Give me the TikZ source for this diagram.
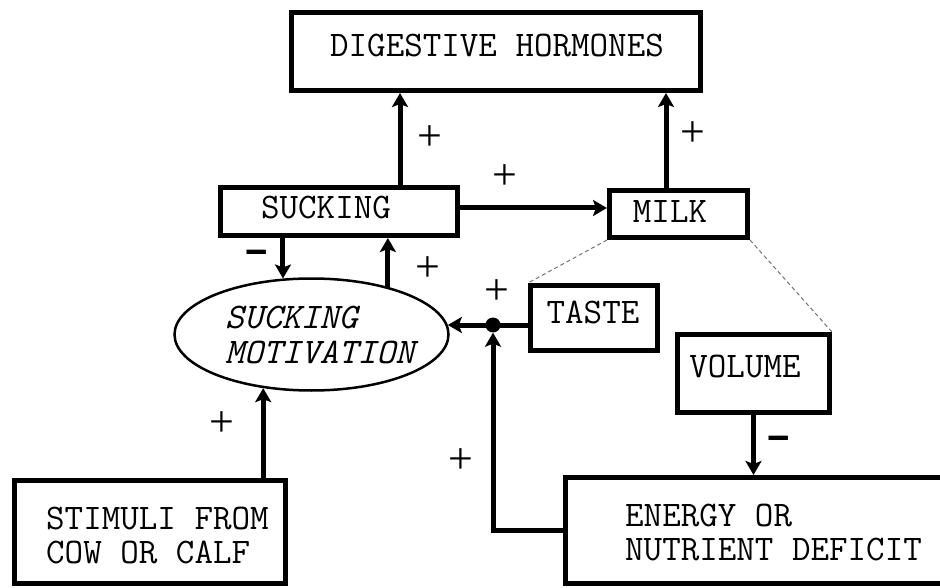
\documentclass[tikz,border=0pt]{standalone}
\usepackage{fontspec}
\newfontfamily\signfont{Liberation Serif}
\newfontfamily\minusfont{Liberation Mono}
\usetikzlibrary{arrows.meta,shapes.geometric}
\begin{document}
\begin{tikzpicture}[x=1pt,y=-1pt,
  box/.style={draw, line width=5pt, rectangle, inner sep=0pt},
  txt/.style={font=\ttfamily\fontsize{36}{34}\selectfont, inner sep=0pt},
  arr/.style={line width=5pt, -{Stealth[length=14pt,width=16pt,inset=3pt]}},
  plain/.style={line width=5pt},
  dashline/.style={draw=black!55, line width=1pt, dash pattern=on 4pt off 3pt},
  sign/.style={font=\signfont\fontsize{44}{44}\selectfont, inner sep=0pt},
  msign/.style={font=\minusfont\fontsize{44}{44}\selectfont\bfseries, inner sep=0pt}]
\useasboundingbox (0,0) rectangle (940,588);
\clip (0,0) rectangle (940,588);
% boxes
\node[box, minimum width=409pt, minimum height=78pt] (horm) at (496,51.5) {};
\node[box, minimum width=237pt, minimum height=48pt] (suck) at (339,211.5) {};
\node[box, minimum width=138pt, minimum height=47pt] (milk) at (678.5,214) {};
\node[box, minimum width=127pt, minimum height=65pt] (taste) at (594,318) {};
\node[box, minimum width=152pt, minimum height=78pt] (vol) at (753.5,373.5) {};
\node[box, minimum width=271pt, minimum height=103pt] (stim) at (150,532) {};
\node[box, minimum width=422pt, minimum height=106pt] (en) at (776.5,530.5) {};
\node[ellipse, draw, line width=2.5pt, inner sep=0pt, minimum width=274pt, minimum height=112pt] (mot) at (311.5,334.5) {};
\node[circle, fill, inner sep=0pt, minimum size=15pt] (dot) at (493,325) {};
% texts
\node[txt, anchor=base] (thorm) at (497,57) {DIGESTIVE HORMONES};
\node[txt, anchor=base] (tsuck) at (326,219) {SUCKING};
\node[txt, anchor=base] (tmilk) at (670,223) {MILK};
\node[txt, anchor=base] (ttaste) at (593,323) {TASTE};
\node[txt, anchor=base] (tvol) at (745,377) {VOLUME};
\node[txt, anchor=base west, align=left] (ten) at (625,560) {ENERGY OR\\NUTRIENT DEFICIT};
\node[txt, anchor=base west, align=left] (tstim) at (46,563) {STIMULI FROM\\COW OR CALF};
\node[txt, anchor=base west, align=left, font=\ttfamily\fontsize{36}{35}\selectfont\itshape] (tmot) at (225,363) {SUCKING\\MOTIVATION};
% connectors
\coordinate (xa) at (400,0);
\coordinate (xb) at (666,0);
\coordinate (ya) at (0,208);
\draw[arr] (suck.north -| xa) -- (horm.south -| xa);
\draw[arr] (milk.north -| xb) -- (horm.south -| xb);
\draw[arr] (suck.east |- ya) -- (milk.west |- ya);
\draw[arr] (suck.south -| mot.117) -- (mot.117);
\draw[arr] (mot.32) -- (mot.32 |- suck.south);
\draw[arr] (stim.north -| mot.-132) -- (mot.-132);
\draw[plain] (taste.west |- dot) -- (dot.center);
\draw[arr] (dot.center) -- (dot -| mot.4);
\draw[arr] (en.west) -| (dot.south);
\draw[arr] (vol.south) -- (vol.south |- en.north);
\draw[dashline] (milk.south west) -- (taste.north west);
\draw[dashline] (milk.south east) -- (vol.north east);
% signs
\node[sign] (s1) at (430,138) {+};
\node[sign] (s2) at (505,177) {+};
\node[sign] (s3) at (693,134) {+};
\node[msign] (s4) at (257,257) {–};
\node[sign] (s5) at (428,269) {+};
\node[sign] (s6) at (497,292) {+};
\node[sign] (s7) at (222,424) {+};
\node[sign] (s8) at (461,461) {+};
\node[msign] (s9) at (779,443) {–};
\end{tikzpicture}
\end{document}
